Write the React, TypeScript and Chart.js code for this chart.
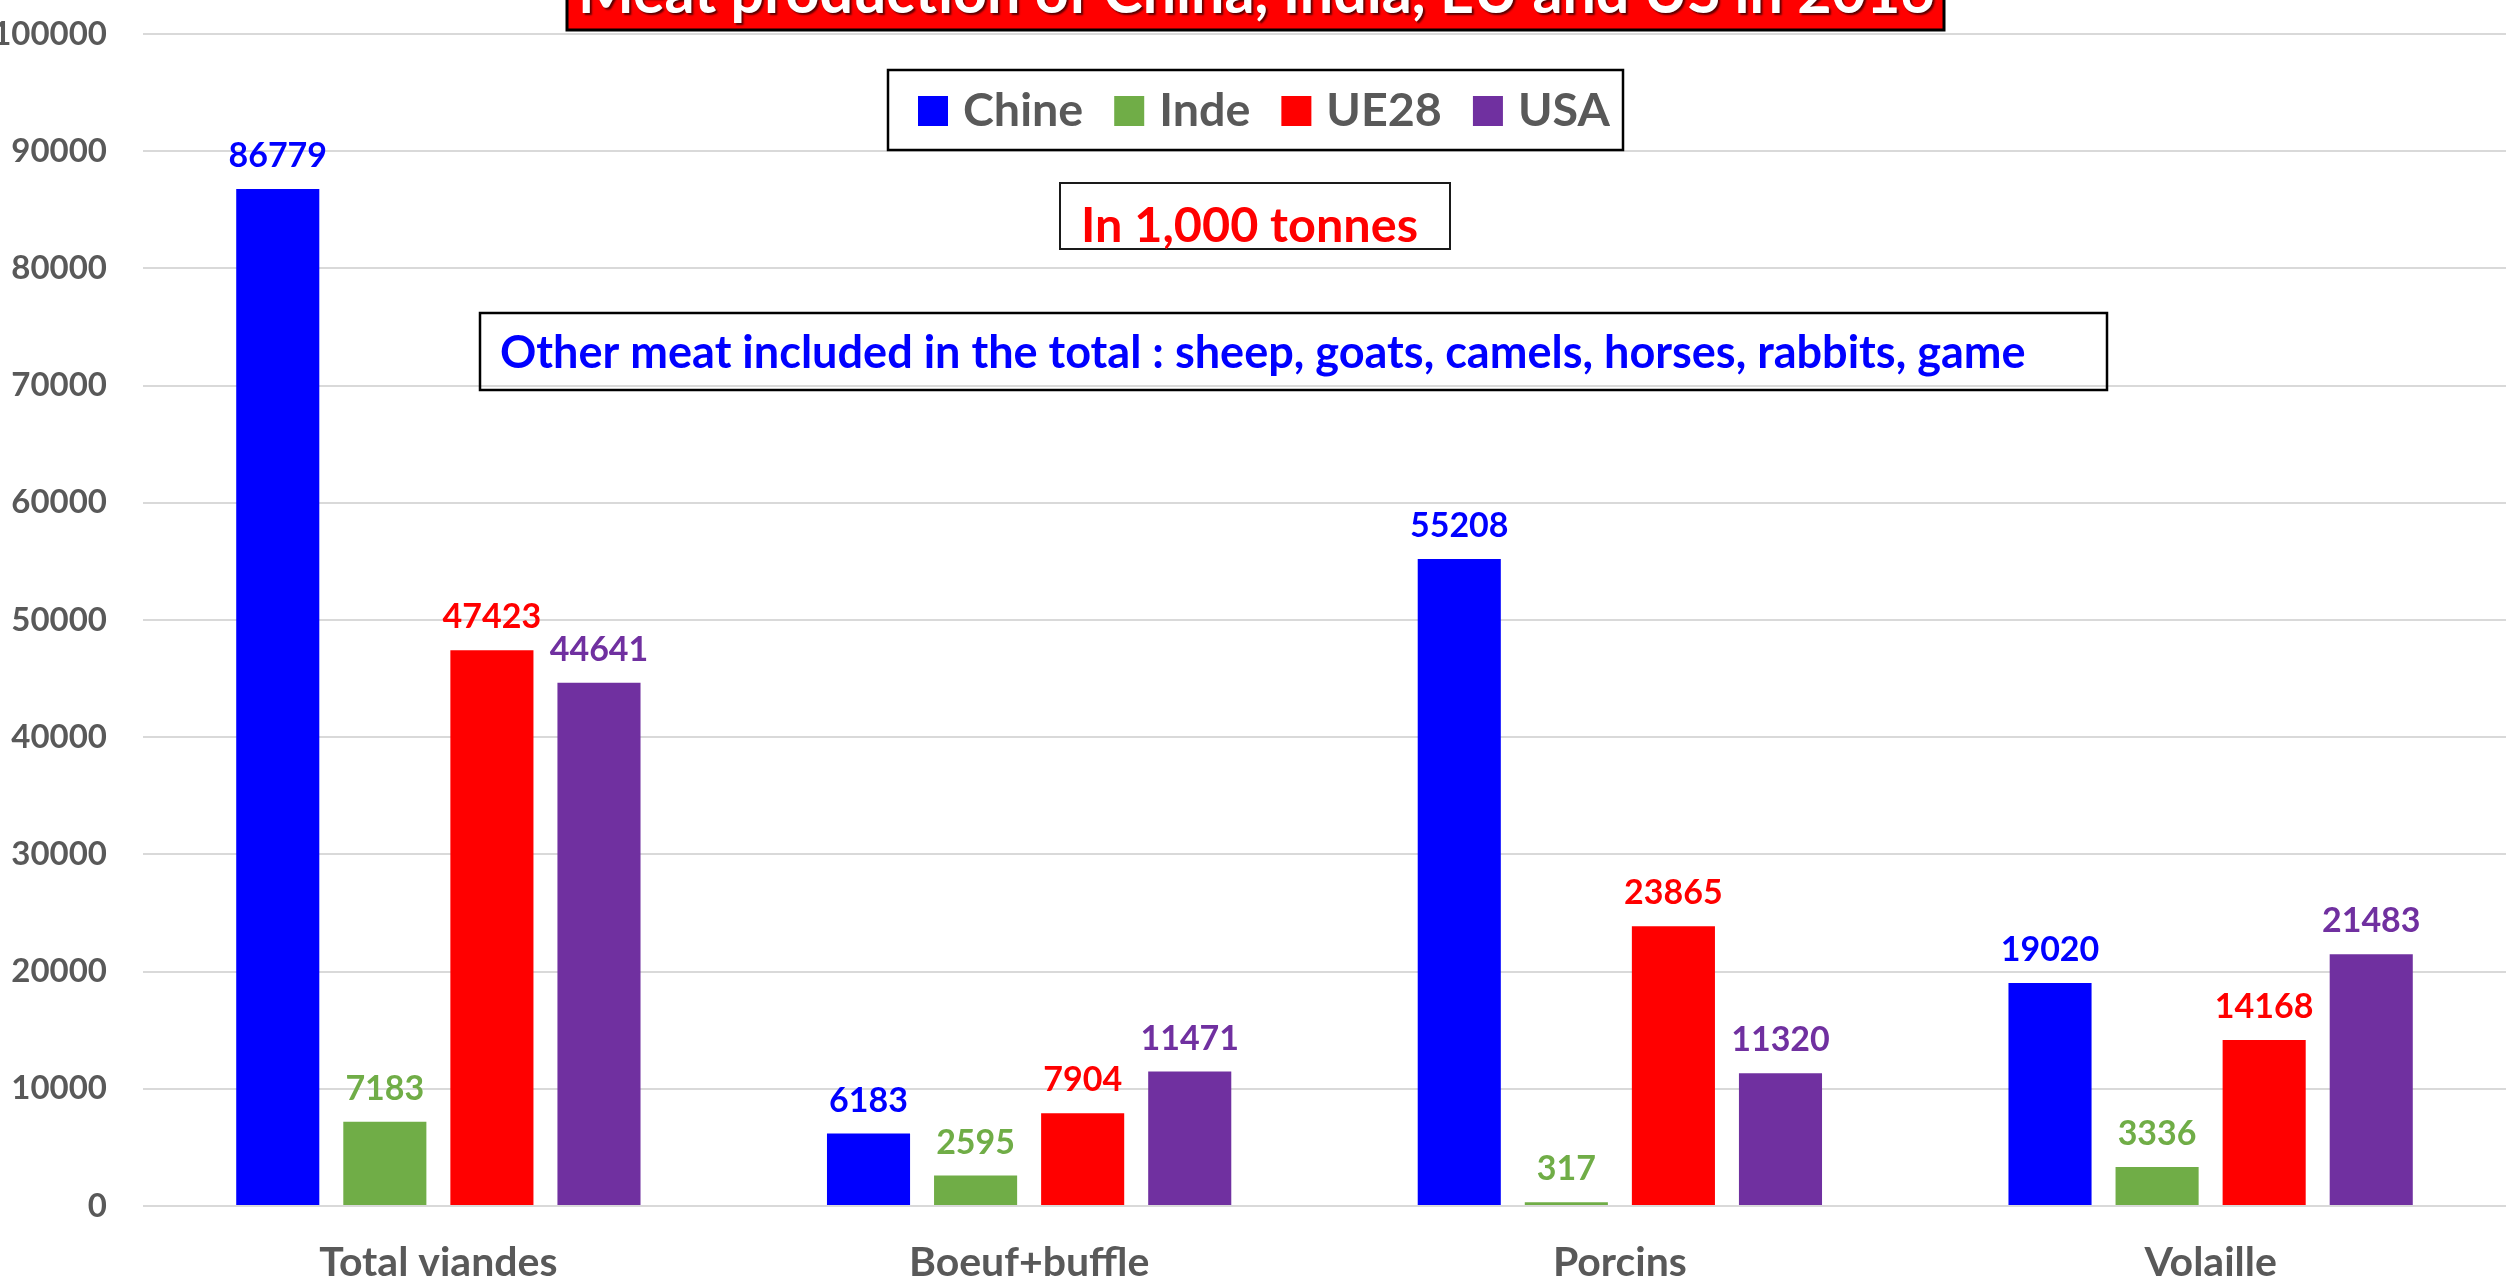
import React, { useEffect, useRef } from 'react';
import { Chart, registerables } from 'chart.js';

Chart.register(...registerables);

// ---------- data ----------
const categories = ['Total viandes', 'Boeuf+buffle', 'Porcins', 'Volaille'];
const seriesNames = ['Chine', 'Inde', 'UE28', 'USA'];
const chineValues = [86779, 6183, 55208, 19020];
const indeValues = [7183, 2595, 317, 3336];
const ue28Values = [47423, 7904, 23865, 14168];
const usaValues = [44641, 11471, 11320, 21483];
const seriesColors = ['#0000FF', '#70AD47', '#FF0000', '#7030A0'];
const yMin = 0;
const yMax = 100000;
const yStep = 10000;
const titleText = 'Meat production of China, India, EU and US in 2016';
const unitText = 'In 1,000 tonnes';
const noteText = 'Other meat included in the total : sheep, goats, camels, horses, rabbits, game';

// ---------- styles ----------
const FONT = 'Lato, "Open Sans", sans-serif';
const GRAY = '#595959';

function fitSize(ctx: CanvasRenderingContext2D, text: string, width: number): number {
  ctx.save();
  ctx.font = `bold 100px ${FONT}`;
  const w = ctx.measureText(text).width;
  ctx.restore();
  return (100 * width) / w;
}

const valueLabels = {
  id: 'valueLabels',
  afterDatasetsDraw(chart: any) {
    const ctx: CanvasRenderingContext2D = chart.ctx;
    ctx.save();
    ctx.font = `bold 34px ${FONT}`;
    ctx.textAlign = 'center';
    ctx.textBaseline = 'alphabetic';
    chart.data.datasets.forEach((ds: any, i: number) => {
      const meta = chart.getDatasetMeta(i);
      ctx.fillStyle = ds.backgroundColor;
      meta.data.forEach((bar: any, j: number) => {
        ctx.fillText(String(ds.data[j]), bar.x, bar.y - 22);
      });
    });
    ctx.restore();
  },
};

const annotations = {
  id: 'annotations',
  afterDraw(chart: any) {
    const ctx: CanvasRenderingContext2D = chart.ctx;

    // Title box (clipped at the top)
    ctx.save();
    ctx.fillStyle = '#FF0000';
    ctx.fillRect(567, -60, 1377, 90);
    ctx.lineWidth = 3;
    ctx.strokeStyle = '#000000';
    ctx.strokeRect(567, -60, 1377, 90);
    const ts = fitSize(ctx, titleText, 1357);
    ctx.font = `bold ${ts}px ${FONT}`;
    ctx.textAlign = 'left';
    ctx.textBaseline = 'alphabetic';
    ctx.shadowColor = 'rgba(0,0,0,0.65)';
    ctx.shadowOffsetX = 2;
    ctx.shadowOffsetY = 2;
    ctx.shadowBlur = 2;
    ctx.fillStyle = '#FFFFFF';
    ctx.fillText(titleText, 578, 13);
    ctx.restore();

    // Legend box
    ctx.save();
    ctx.lineWidth = 2.5;
    ctx.strokeStyle = '#000000';
    ctx.strokeRect(888, 70, 735, 80);
    const labels: string[] = chart.data.datasets.map((d: any) => d.label);
    const colors: string[] = chart.data.datasets.map((d: any) => d.backgroundColor);
    ctx.font = `bold 100px ${FONT}`;
    const w100 = labels.reduce((s, l) => s + ctx.measureText(l).width, 0);
    const textTotal = 692 - labels.length * 45 - (labels.length - 1) * 31;
    const ls = (100 * textTotal) / w100;
    ctx.font = `bold ${ls}px ${FONT}`;
    ctx.textBaseline = 'alphabetic';
    ctx.textAlign = 'left';
    let x = 918;
    labels.forEach((l, i) => {
      ctx.fillStyle = colors[i];
      ctx.fillRect(x, 96, 30, 30);
      x += 45;
      ctx.fillStyle = GRAY;
      ctx.fillText(l, x, 126);
      x += ctx.measureText(l).width + 31;
    });
    ctx.restore();

    // Unit box
    ctx.save();
    ctx.lineWidth = 2;
    ctx.strokeStyle = '#1a1a1a';
    ctx.strokeRect(1060, 183, 390, 66);
    const us = fitSize(ctx, unitText, 337);
    ctx.font = `bold ${us}px ${FONT}`;
    ctx.fillStyle = '#FF0000';
    ctx.textAlign = 'left';
    ctx.textBaseline = 'alphabetic';
    ctx.fillText(unitText, 1081, 242);
    ctx.restore();

    // Note box
    ctx.save();
    ctx.lineWidth = 2.5;
    ctx.strokeStyle = '#000000';
    ctx.strokeRect(480, 313, 1627, 77);
    const ns = fitSize(ctx, noteText, 1526);
    ctx.font = `bold ${ns}px ${FONT}`;
    ctx.fillStyle = '#0000FF';
    ctx.textAlign = 'left';
    ctx.textBaseline = 'alphabetic';
    ctx.fillText(noteText, 500, 368);
    ctx.restore();
  },
};

export default function App() {
  const canvasRef = useRef<HTMLCanvasElement | null>(null);

  useEffect(() => {
    if (!canvasRef.current) return;
    Chart.defaults.font.family = FONT;
    const seriesValues = [chineValues, indeValues, ue28Values, usaValues];
    const chart = new Chart(canvasRef.current, {
      type: 'bar',
      data: {
        labels: categories,
        datasets: seriesNames.map((name, i) => ({
          label: name,
          data: seriesValues[i],
          backgroundColor: seriesColors[i],
          borderWidth: 0,
          categoryPercentage: 0.725,
          barPercentage: 0.776,
        })),
      },
      options: {
        responsive: false,
        animation: false,
        devicePixelRatio: 1,
        layout: { padding: { top: 34, right: 3, left: 0, bottom: 0 } },
        plugins: {
          legend: { display: false },
          title: { display: false },
          tooltip: { enabled: false },
        },
        scales: {
          x: {
            grid: { display: false, drawTicks: false },
            border: { display: false },
            ticks: {
              color: GRAY,
              font: { size: 41, weight: 'bold', family: FONT },
              padding: 32,
              maxRotation: 0,
              autoSkip: false,
            },
            afterFit: (s: any) => {
              s.height = 77;
            },
          },
          y: {
            min: yMin,
            max: yMax,
            ticks: {
              stepSize: yStep,
              color: GRAY,
              font: { size: 33, weight: 'bold', family: FONT },
              padding: 36,
              callback: (v: any) => String(v),
            },
            grid: { color: '#D9D9D9', lineWidth: 2, drawTicks: false },
            border: { display: false },
            afterFit: (s: any) => {
              s.width = 143;
              s.paddingTop = 0;
              s.paddingBottom = 0;
            },
          },
        },
      } as any,
      plugins: [valueLabels, annotations],
    });
    return () => chart.destroy();
  }, []);

  return (
    <div style={{ position: 'fixed', left: 0, top: 0, width: 2509, height: 1283, background: '#fff' }}>
      <canvas ref={canvasRef} width={2509} height={1283} style={{ display: 'block' }} />
    </div>
  );
}
